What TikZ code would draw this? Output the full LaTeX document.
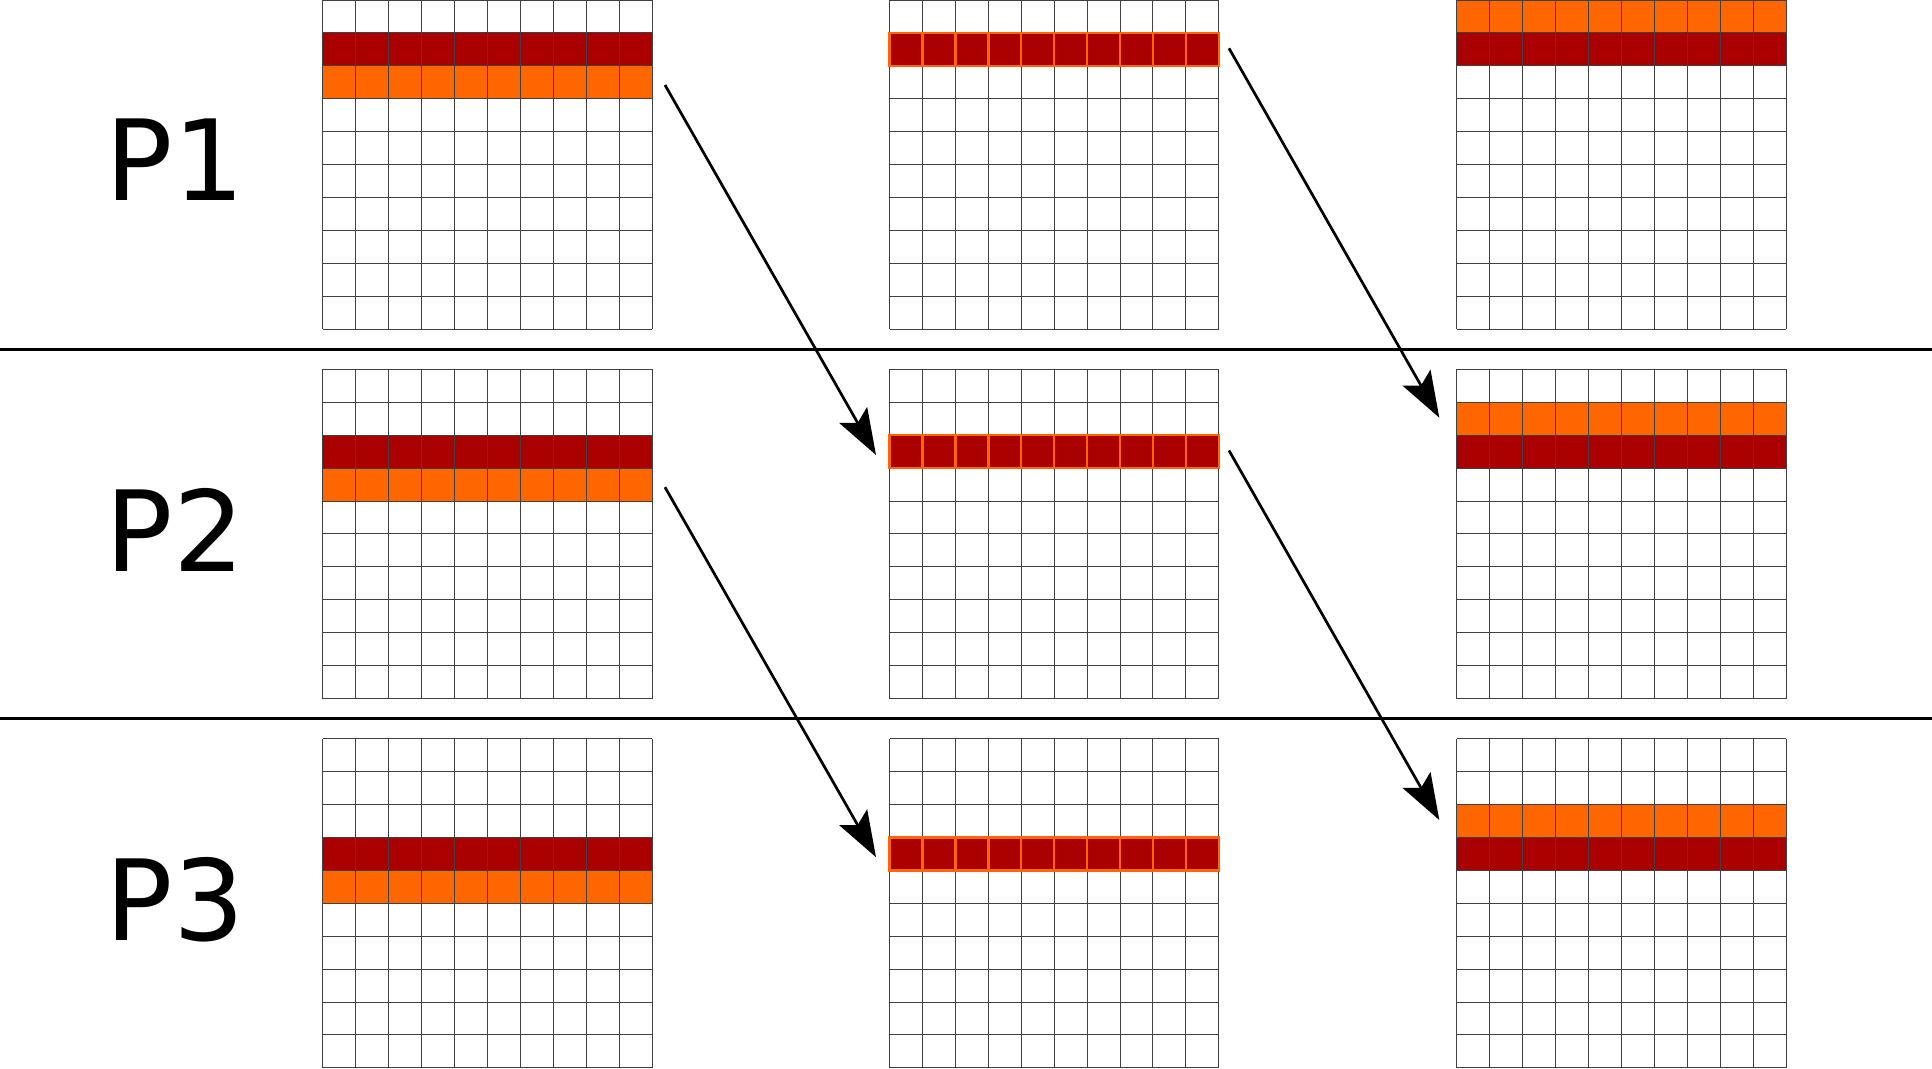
\documentclass[tikz,border=0pt]{standalone}
\usepackage{fontspec}
\setmainfont{DejaVu Sans}
\usetikzlibrary{arrows.meta}
\definecolor{darkred}{HTML}{AA0000}
\definecolor{myorange}{HTML}{FF6600}
\def\cs{32.93}
\def\gw{329.3}

\begin{document}
\begin{tikzpicture}[
    x=1pt, y=-1pt,
    gridline/.style={black!75, line width=1pt},
    sepline/.style={black, line width=2.5pt},
    hotrow/.style={fill=darkred, draw=none},
    warmrow/.style={fill=myorange, draw=none},
    sentcell/.style={fill=darkred, draw=myorange, line width=2.5pt},
    movearrow/.style={-{Stealth[length=46pt, width=32pt, inset=9pt]}, line width=2.7pt},
    proclabel/.style={font=\fontsize{112}{112}\selectfont, inner sep=0pt}
    ]

\useasboundingbox (0,0) rectangle (1932,1068);

% coloured rows, first and last column
\foreach \p in {0,1,2} {
    \fill[darkred] (322.7,{\p*369.3+(\p+1)*\cs}) rectangle ++(\gw,\cs);
    \fill[myorange] (322.7,{\p*369.3+(\p+2)*\cs}) rectangle ++(\gw,\cs);
    \fill[myorange] (1456.7,{\p*369.3+\p*\cs}) rectangle ++(\gw,\cs);
    \fill[darkred] (1456.7,{\p*369.3+(\p+1)*\cs}) rectangle ++(\gw,\cs);
}

% the nine grids
\foreach \gx in {322.7,889.5,1456.7} {
    \foreach \gy in {0,369.3,738.6} {
        \foreach \i in {0,...,10} {
            \draw[gridline] ({\gx+\i*\cs},\gy) -- ++(0,\gw);
            \draw[gridline] (\gx,{\gy+\i*\cs}) -- ++(\gw,0);
        }
    }
}

% row being sent, middle column
\foreach \p in {0,1,2} {
    \foreach \i in {0,...,9} {
        \draw[sentcell] ({889.5+\i*\cs},{\p*369.3+(\p+1)*\cs}) rectangle ++(\cs,\cs);
    }
}

\draw[sepline] (0,349.3) -- (1932,349.3);
\draw[sepline] (0,718.6) -- (1932,718.6);

\node[proclabel] (p1) at (175,160) {P1};
\node[proclabel] (p2) at (175,530) {P2};
\node[proclabel] (p3) at (175,900) {P3};

\coordinate (src1) at (665,85);
\coordinate (dst1) at (876,455);
\coordinate (src2) at (1229,48.3);
\coordinate (dst2) at (1439.3,417.7);
\coordinate (src3) at (665,487.2);
\coordinate (dst3) at (876,857.2);
\coordinate (src4) at (1229,450.5);
\coordinate (dst4) at (1439.3,820);

\draw[movearrow] (src1) -- (dst1);
\draw[movearrow] (src2) -- (dst2);
\draw[movearrow] (src3) -- (dst3);
\draw[movearrow] (src4) -- (dst4);

\end{tikzpicture}
\end{document}
